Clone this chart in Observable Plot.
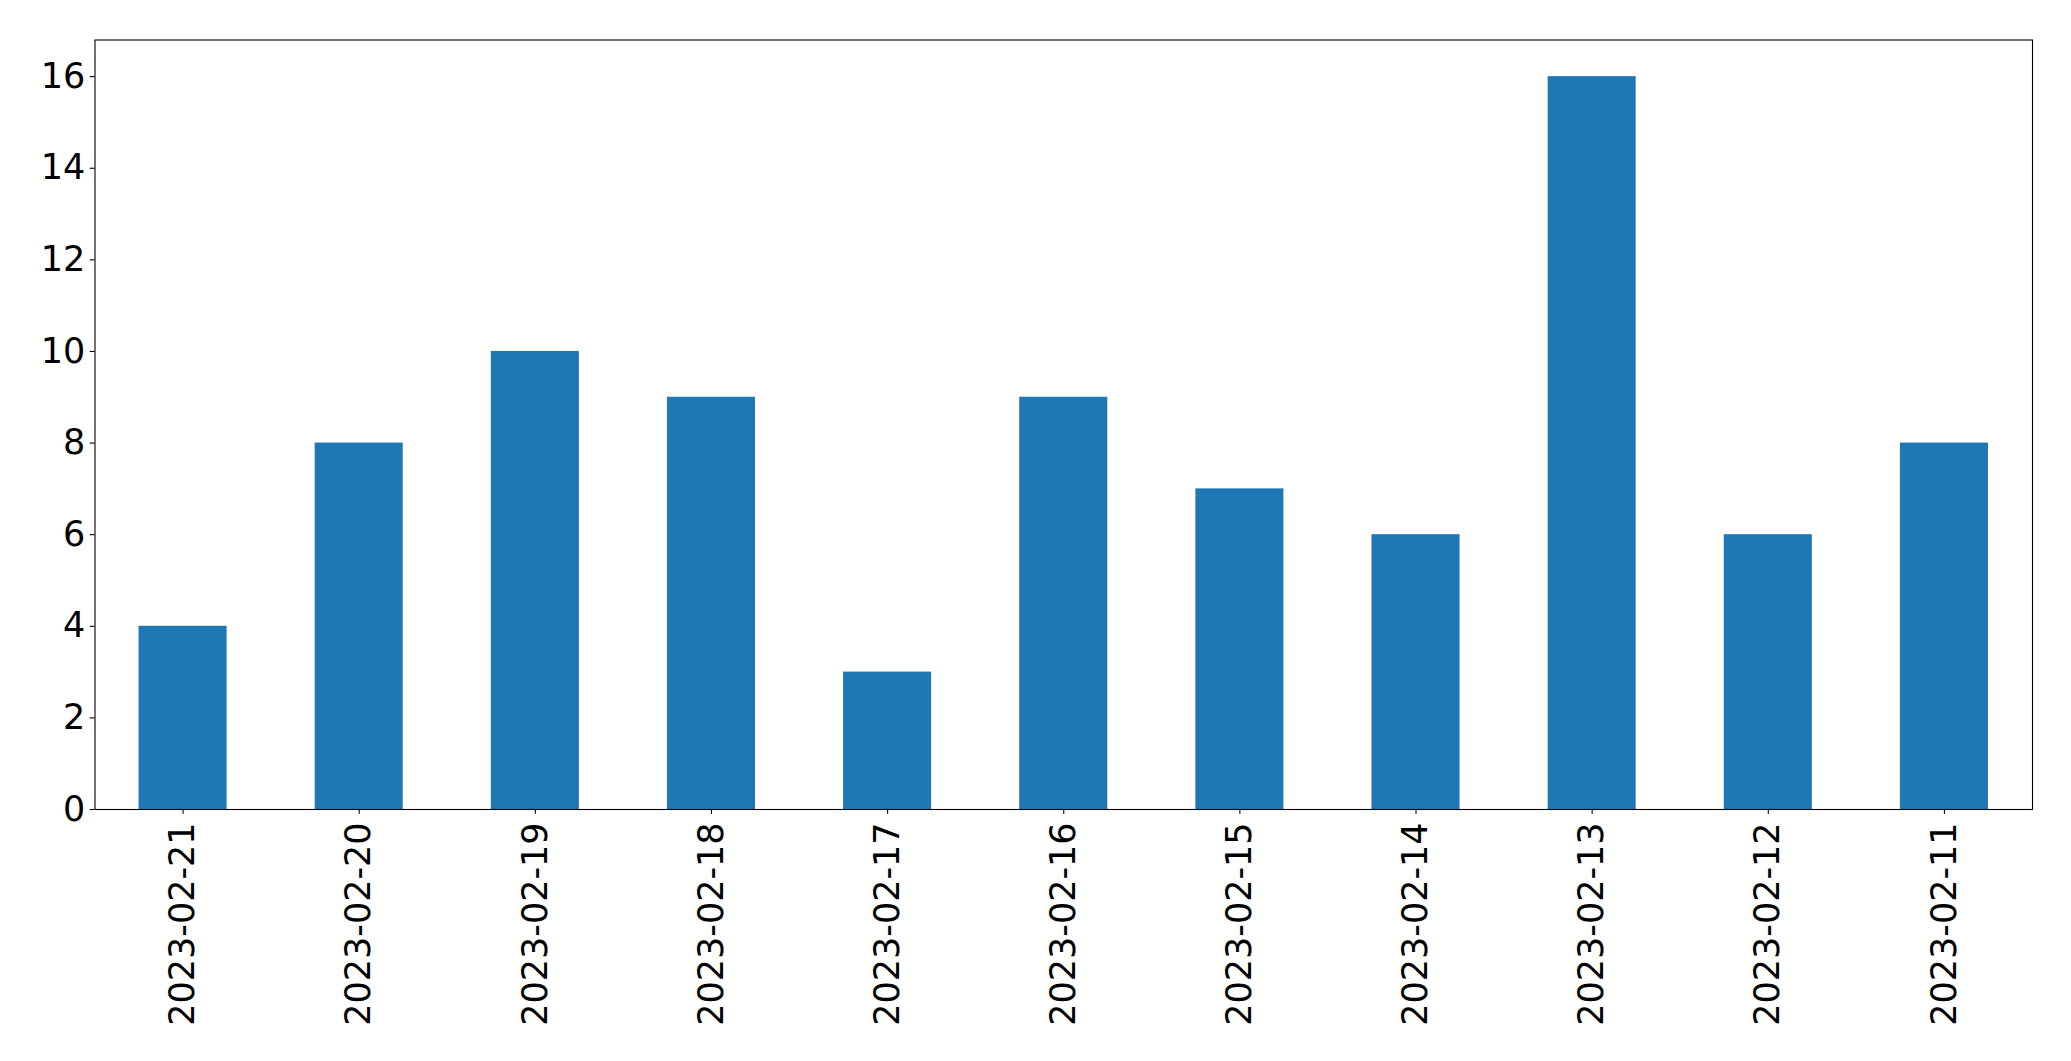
<!DOCTYPE html>
<html>
<head>
<meta charset="utf-8">
<script src="https://cdn.jsdelivr.net/npm/d3@7"></script>
<script src="https://cdn.jsdelivr.net/npm/@observablehq/plot@0.6"></script>
<style>
  html, body { margin: 0; padding: 0; background: #fff; }
</style>
</head>
<body>
<div id="chart"></div>
<script>
const dates = ["2023-02-21","2023-02-20","2023-02-19","2023-02-18","2023-02-17","2023-02-16","2023-02-15","2023-02-14","2023-02-13","2023-02-12","2023-02-11"];
const counts = [4, 8, 10, 9, 3, 9, 7, 6, 16, 6, 8];
const yTicks = [0, 2, 4, 6, 8, 10, 12, 14, 16];

const data = dates.map((d, i) => ({date: d, count: counts[i]}));

const fs = 35;
const plot = Plot.plot({
  width: 2071,
  height: 1061,
  marginLeft: 94.5,
  marginRight: 39,
  marginTop: 39.5,
  marginBottom: 252,
  style: {fontFamily: "DejaVu Sans", fontSize: fs + "px", background: "#fff", color: "#000"},
  x: {type: "band", domain: dates, paddingInner: 0.5, paddingOuter: 0.25, align: 0.5, round: false},
  y: {domain: [0, 16.8]},
  marks: [
    Plot.barY(data, {x: "date", y: "count", fill: "#1f77b4"}),
    Plot.axisY({ticks: yTicks, tickSize: 4.86, tickPadding: 4.86, strokeWidth: 1.1, fontSize: fs, label: null, tickFormat: d => String(d)}),
    Plot.axisX({tickRotate: -90, tickSize: 4.86, tickPadding: 8, strokeWidth: 1.1, fontSize: fs, label: null}),
    Plot.frame({stroke: "#000", strokeWidth: 1.1})
  ]
});
document.getElementById("chart").appendChild(plot);
</script>
</body>
</html>
